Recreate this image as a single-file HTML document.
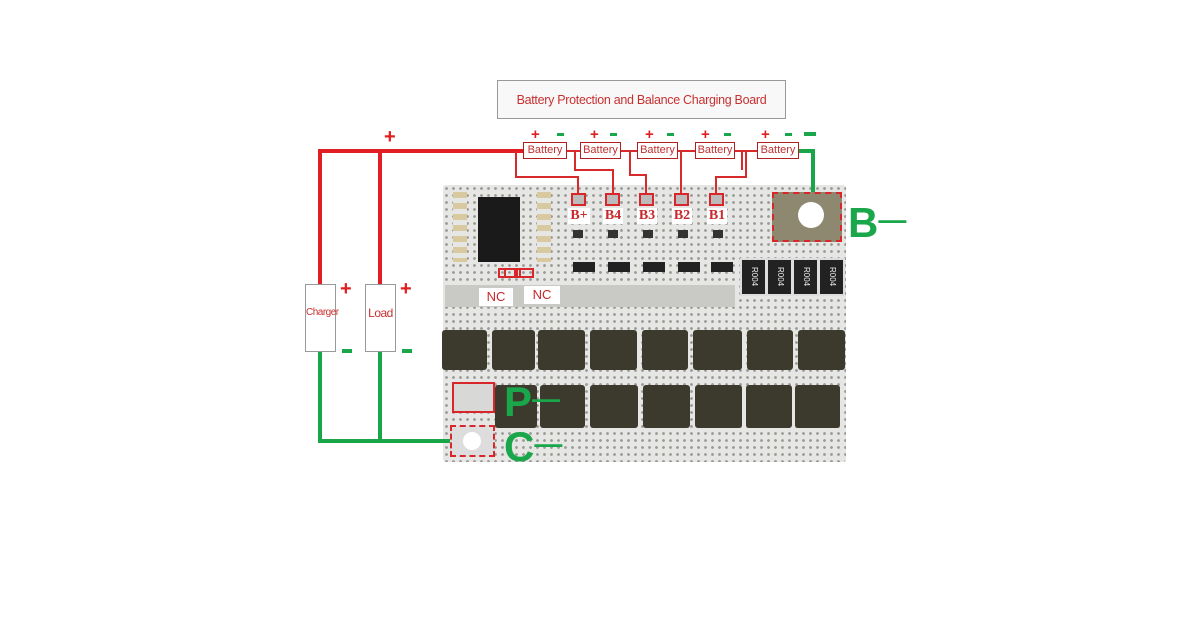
<!DOCTYPE html>
<html><head><meta charset="utf-8"><style>
body{margin:0;width:1200px;height:630px;background:#fff;position:relative;overflow:hidden;font-family:"Liberation Sans",sans-serif}
.a{position:absolute}
.board{left:443px;top:185px;width:403px;height:277px;background-color:#e6e6e4;background-image:radial-gradient(circle,#9a9a96 1.2px,transparent 1.6px);background-size:7px 7px;border-radius:3px}
.mos{position:absolute;background:#3b3a2c;border-radius:3px}
.rb{position:absolute;border:2px solid #d8262a;box-sizing:border-box}
.bl{position:absolute;background:#fff;color:#c8282c;font-family:"Liberation Serif",serif;font-size:14px;font-weight:bold;line-height:16px;text-align:center}
.bat{position:absolute;top:142px;height:17px;background:#fff;border:1px solid #b02020;box-sizing:border-box;color:#c03030;font-size:11px;line-height:15px;text-align:center}
.g{color:#1aa64a;font-weight:bold;font-size:42px;line-height:40px}
.r{color:#e02020;font-weight:bold}
.res{position:absolute;top:258px;width:23px;height:34px;background:#222;border:2px solid #ddd;color:#eee;font-size:8px;writing-mode:vertical-rl;text-align:center;line-height:22px}
</style></head><body>
<div class="a" style="left:497px;top:80px;width:289px;height:39px;border:1px solid #999;box-sizing:border-box;background:#f8f8f8;color:#c83030;font-size:12.5px;line-height:38px;text-align:center;letter-spacing:-0.3px">Battery Protection and Balance Charging Board</div>

<div class="board a"></div>
<!-- chip and left components -->
<div class="a" style="left:478px;top:197px;width:42px;height:65px;background:#1a1a1a"></div>
<div class="a" style="left:453px;top:192px;width:14px;height:70px;background:repeating-linear-gradient(#d9c9a0 0 6px,#e6e6e4 6px 11px)"></div>
<div class="a" style="left:537px;top:192px;width:14px;height:70px;background:repeating-linear-gradient(#d9c9a0 0 6px,#e6e6e4 6px 11px)"></div>
<div class="a" style="left:445px;top:285px;width:290px;height:22px;background:#c9c9c5"></div>
<!-- small transistors -->
<div class="a" style="left:573px;top:262px;width:22px;height:10px;background:#222"></div>
<div class="a" style="left:608px;top:262px;width:22px;height:10px;background:#222"></div>
<div class="a" style="left:643px;top:262px;width:22px;height:10px;background:#222"></div>
<div class="a" style="left:678px;top:262px;width:22px;height:10px;background:#222"></div>
<div class="a" style="left:711px;top:262px;width:22px;height:10px;background:#222"></div>
<div class="a" style="left:573px;top:230px;width:150px;height:8px;background:repeating-linear-gradient(90deg,#333 0 10px,transparent 10px 35px)"></div>
<!-- resistors -->
<div class="res" style="left:740px">R004</div>
<div class="res" style="left:766px">R004</div>
<div class="res" style="left:792px">R004</div>
<div class="res" style="left:818px">R004</div>
<!-- mosfets top -->
<div class="mos" style="left:442px;top:330px;width:45px;height:40px"></div>
<div class="mos" style="left:492px;top:330px;width:43px;height:40px"></div>
<div class="mos" style="left:538px;top:330px;width:47px;height:40px"></div>
<div class="mos" style="left:590px;top:330px;width:47px;height:40px"></div>
<div class="mos" style="left:642px;top:330px;width:46px;height:40px"></div>
<div class="mos" style="left:693px;top:330px;width:49px;height:40px"></div>
<div class="mos" style="left:747px;top:330px;width:46px;height:40px"></div>
<div class="mos" style="left:798px;top:330px;width:47px;height:40px"></div>
<!-- mosfets bottom -->
<div class="mos" style="left:495px;top:385px;width:42px;height:43px"></div>
<div class="mos" style="left:540px;top:385px;width:45px;height:43px"></div>
<div class="mos" style="left:590px;top:385px;width:48px;height:43px"></div>
<div class="mos" style="left:643px;top:385px;width:47px;height:43px"></div>
<div class="mos" style="left:695px;top:385px;width:47px;height:43px"></div>
<div class="mos" style="left:746px;top:385px;width:46px;height:43px"></div>
<div class="mos" style="left:795px;top:385px;width:45px;height:43px"></div>

<!-- wires -->
<svg class="a" style="left:0;top:0" width="1200" height="630">
<g fill="none" stroke="#e01e24" stroke-width="4">
<path d="M320 285 V151 H525"/><path d="M380 285 V151"/>
</g>
<g fill="none" stroke="#d82a2a" stroke-width="2">
<path d="M566 151 H580 M620 151 H637 M677 151 H695 M734 151 H757"/>
<path d="M516 151 V177 H578 V194"/>
<path d="M575 151 V170 H613 V194"/>
<path d="M630 151 V175 H646 V194"/>
<path d="M681 151 V194"/>
<path d="M746 151 V177 H716 V194"/>
<path d="M742 151 V170"/>
<path d="M505 278 V268 M520 278 V268"/>
</g>
<g fill="none" stroke="#18a648" stroke-width="4">
<path d="M798 151 H813 V193"/>
<path d="M320 352 V441 H452"/><path d="M380 352 V441"/>
</g>
</svg>

<div class="a r" style="left:384px;top:126px;font-size:20px">+</div>
<div class="bat" style="left:523px;width:44px">Battery</div>
<div class="bat" style="left:580px;width:41px">Battery</div>
<div class="bat" style="left:637px;width:41px">Battery</div>
<div class="bat" style="left:695px;width:40px">Battery</div>
<div class="bat" style="left:757px;width:42px">Battery</div>
<div class="a r" style="left:531px;top:126px;font-size:15px">+</div><div class="a" style="left:557px;top:133px;width:7px;height:3px;background:#1aa64a"></div>
<div class="a r" style="left:590px;top:126px;font-size:15px">+</div><div class="a" style="left:610px;top:133px;width:7px;height:3px;background:#1aa64a"></div>
<div class="a r" style="left:645px;top:126px;font-size:15px">+</div><div class="a" style="left:667px;top:133px;width:7px;height:3px;background:#1aa64a"></div>
<div class="a r" style="left:701px;top:126px;font-size:15px">+</div><div class="a" style="left:724px;top:133px;width:7px;height:3px;background:#1aa64a"></div>
<div class="a r" style="left:761px;top:126px;font-size:15px">+</div><div class="a" style="left:785px;top:133px;width:7px;height:3px;background:#1aa64a"></div>
<div class="a" style="left:804px;top:132px;width:12px;height:4px;background:#1aa64a"></div>

<!-- B terminals -->
<div class="rb" style="left:571px;top:193px;width:15px;height:13px;background:#bbb"></div>
<div class="rb" style="left:605px;top:193px;width:15px;height:13px;background:#bbb"></div>
<div class="rb" style="left:639px;top:193px;width:15px;height:13px;background:#bbb"></div>
<div class="rb" style="left:674px;top:193px;width:15px;height:13px;background:#bbb"></div>
<div class="rb" style="left:709px;top:193px;width:15px;height:13px;background:#bbb"></div>
<div class="bl" style="left:568px;top:208px;width:22px">B+</div>
<div class="bl" style="left:603px;top:208px;width:20px">B4</div>
<div class="bl" style="left:637px;top:208px;width:20px">B3</div>
<div class="bl" style="left:672px;top:208px;width:20px">B2</div>
<div class="bl" style="left:707px;top:208px;width:20px">B1</div>
<!-- B- pad -->
<div class="rb" style="left:772px;top:192px;width:70px;height:50px;background:#8f8870;border-style:dashed"></div>
<div class="a" style="left:798px;top:202px;width:26px;height:26px;border-radius:50%;background:#fff"></div>
<div class="a g" style="left:848px;top:200px">B<span style="font-size:28px;vertical-align:8px">—</span></div>
<!-- NC -->
<div class="rb" style="left:498px;top:268px;width:18px;height:10px"></div>
<div class="rb" style="left:516px;top:268px;width:18px;height:10px"></div>
<div class="bl" style="left:479px;top:288px;width:34px;height:18px;font-weight:normal;font-family:'Liberation Sans',sans-serif;font-size:13px;line-height:18px">NC</div>
<div class="bl" style="left:524px;top:286px;width:36px;height:18px;font-weight:normal;font-family:'Liberation Sans',sans-serif;font-size:13px;line-height:18px">NC</div>
<!-- P C -->
<div class="rb" style="left:452px;top:382px;width:43px;height:31px;background:#d8d8d6"></div>
<div class="rb" style="left:450px;top:425px;width:45px;height:32px;border-style:dashed;background:#ddd"></div>
<div class="a" style="left:463px;top:432px;width:18px;height:18px;border-radius:50%;background:#fff"></div>
<div class="a g" style="left:504px;top:379px">P<span style="font-size:28px;vertical-align:8px">—</span></div>
<div class="a g" style="left:504px;top:424px">C<span style="font-size:28px;vertical-align:8px">—</span></div>

<!-- charger/load -->
<div class="a" style="left:305px;top:284px;width:31px;height:68px;border:1px solid #999;box-sizing:border-box;background:#fff;color:#c83030;font-size:10px;line-height:56px;text-align:center;letter-spacing:-0.5px">Charger</div>
<div class="a" style="left:365px;top:284px;width:31px;height:68px;border:1px solid #999;box-sizing:border-box;background:#fff;color:#c83030;font-size:12px;line-height:56px;text-align:center;letter-spacing:-0.5px">Load</div>
<div class="a r" style="left:340px;top:278px;font-size:20px">+</div>
<div class="a r" style="left:400px;top:278px;font-size:20px">+</div>
<div class="a" style="left:342px;top:349px;width:10px;height:4px;background:#1aa64a"></div>
<div class="a" style="left:402px;top:349px;width:10px;height:4px;background:#1aa64a"></div>
</body></html>
